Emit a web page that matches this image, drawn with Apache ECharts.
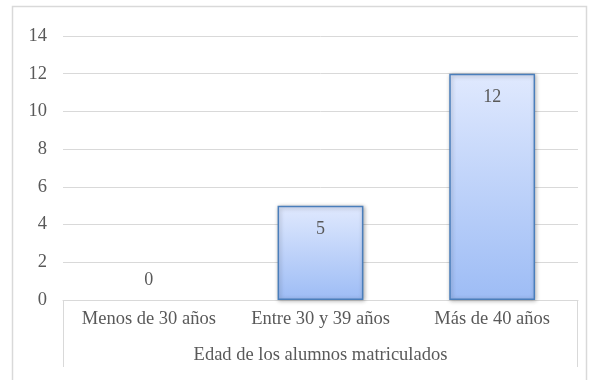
<!DOCTYPE html>
<html>
<head>
<meta charset="utf-8">
<script src="https://cdn.jsdelivr.net/npm/echarts@6/dist/echarts.min.js"></script>
<style>
html,body{margin:0;padding:0;background:#fff;}
#chart{width:597px;height:380px;}
</style>
</head>
<body>
<div id="chart"></div>
<script>
var categories = ['Menos de 30 años', 'Entre 30 y 39 años', 'Más de 40 años'];
var values = [0, 5, 12];
var axisTitle = 'Edad de los alumnos matriculados';
var yMin = 0, yMax = 14, yStep = 2;

var font = '"Liberation Serif", "Times New Roman", serif';
var textColor = '#595959';
var lineColor = '#d9d9d9';

var chart = echarts.init(document.getElementById('chart'), null, {renderer: 'canvas'});

var seriesData = values.map(function (v) {
  var d = {
    value: v,
    label: v === 0 ? {position: 'top', distance: 10} : {position: 'insideTop', distance: 15}
  };
  if (v === 0) {
    d.itemStyle = {borderColor: 'transparent', shadowColor: 'transparent'};
  }
  return d;
});

var option = {
  animation: false,
  backgroundColor: '#fff',
  grid: {left: 63, right: 19, top: 36, bottom: 80, containLabel: false},
  xAxis: {
    type: 'category',
    data: categories,
    axisLine: {show: true, lineStyle: {color: lineColor, width: 1}},
    axisTick: {show: false},
    axisLabel: {color: textColor, fontFamily: font, fontSize: 18.5, margin: 10, interval: 0},
    name: axisTitle,
    nameLocation: 'middle',
    nameGap: 46,
    nameTextStyle: {color: textColor, fontFamily: font, fontSize: 18.5}
  },
  yAxis: {
    type: 'value',
    min: yMin, max: yMax, interval: yStep,
    axisLine: {show: false},
    axisTick: {show: false},
    axisLabel: {color: textColor, fontFamily: font, fontSize: 18.5, margin: 16},
    splitLine: {lineStyle: {color: lineColor, width: 1}}
  },
  series: [{
    type: 'bar',
    data: seriesData,
    barWidth: '50%',
    itemStyle: {
      color: new echarts.graphic.LinearGradient(0, 0, 0, 1, [
        {offset: 0, color: '#e0e9fe'},
        {offset: 1, color: '#9dbcf5'}
      ]),
      borderColor: '#4a7ebb',
      borderWidth: 1.5,
      shadowColor: 'rgba(0,0,0,0.3)',
      shadowBlur: 4,
      shadowOffsetX: 1,
      shadowOffsetY: 1
    },
    label: {show: true, color: textColor, fontFamily: font, fontSize: 18}
  }]
};
chart.setOption(option);

// decorative frame: outer chart border and axis label box, derived from the grid
var g = chart.getModel().getComponent('grid').coordinateSystem.getRect();
chart.setOption({
  graphic: [
    {type: 'rect', shape: {x: 12.5, y: 6.5, width: 574, height: 400}, style: {fill: 'none', stroke: lineColor, lineWidth: 1.5}, silent: true},
    {type: 'line', shape: {x1: g.x + 0.5, y1: g.y + g.height, x2: g.x + 0.5, y2: g.y + g.height + 67}, style: {stroke: lineColor, lineWidth: 1}, silent: true},
    {type: 'line', shape: {x1: g.x + g.width - 0.5, y1: g.y + g.height, x2: g.x + g.width - 0.5, y2: g.y + g.height + 67}, style: {stroke: lineColor, lineWidth: 1}, silent: true}
  ]
});
</script>
</body>
</html>
